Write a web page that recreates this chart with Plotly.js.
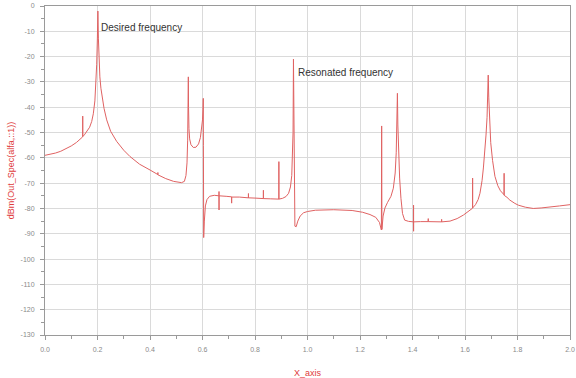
<!DOCTYPE html>
<html>
<head>
<meta charset="utf-8">
<script src="https://cdn.plot.ly/plotly-3.0.1.min.js"></script>
<style>html,body{margin:0;padding:0;background:#fff;}#chart{width:576px;height:378px;}</style>
</head>
<body>
<div id="chart"></div>
<script>
// Frequency axis (X_axis) sample positions
const xAxisVals = [
  0, 0.02, 0.04, 0.06, 0.08, 0.1, 0.12, 0.135, 0.1436, 0.1437, 0.1438,
  0.15, 0.16, 0.17, 0.178, 0.184, 0.19, 0.194, 0.197, 0.1995, 0.2015, 0.2035,
  0.206, 0.209, 0.213, 0.218, 0.225, 0.235, 0.25, 0.273, 0.3, 0.324, 0.36, 0.4,
  0.4299, 0.43, 0.4301, 0.46, 0.49, 0.52, 0.531, 0.537, 0.541, 0.5435, 0.5452,
  0.546, 0.5468, 0.5485, 0.551, 0.556, 0.565, 0.575, 0.585, 0.592, 0.597, 0.6,
  0.6018, 0.603, 0.6035, 0.6045, 0.607, 0.611, 0.617, 0.627, 0.645,
  0.6628, 0.6629, 0.6630, 0.6631, 0.69, 0.7109, 0.711, 0.7111, 0.74,
  0.7749, 0.775, 0.7751, 0.8, 0.8319, 0.832, 0.8321, 0.86, 0.8909, 0.891, 0.8911,
  0.905, 0.918, 0.928, 0.935, 0.94, 0.943, 0.945, 0.9465, 0.948, 0.9495, 0.952,
  0.957, 0.963, 0.972, 0.985, 1.0, 1.03, 1.1, 1.17, 1.21, 1.238, 1.26, 1.274,
  1.2815, 1.2825, 1.2835, 1.288, 1.295, 1.305, 1.318, 1.327, 1.334, 1.338,
  1.3408, 1.3425, 1.3442, 1.347, 1.351, 1.356, 1.362, 1.37, 1.385,
  1.4039, 1.404, 1.4041, 1.4042, 1.43, 1.4599, 1.46, 1.4601, 1.5109, 1.511, 1.5111,
  1.543, 1.57, 1.594, 1.612, 1.6289, 1.629, 1.6291, 1.64, 1.65, 1.657, 1.665,
  1.67, 1.676, 1.68, 1.684, 1.6865, 1.6885, 1.6905, 1.6935, 1.698, 1.705, 1.714,
  1.725, 1.735, 1.7489, 1.749, 1.7491, 1.76, 1.771, 1.79, 1.803, 1.83, 1.86,
  1.89, 1.924, 1.96, 2.0
];
// dBm(Out_Spec(alfa,::1)) values
const dbmVals = [
  -59, -58.6, -58.1, -57.4, -56.4, -55.3, -53.9, -52.5, -51.7, -43.5, -51.6,
  -50.9, -49.6, -47.9, -45.6, -42.6, -37.5, -31, -23, -13, -2, -13,
  -22, -28, -32.5, -36.5, -40.5, -45, -49.5, -53.5, -57, -59.5, -62.5, -64.8,
  -66.6, -65.8, -66.7, -68.2, -69.3, -69.8, -69.3, -67, -62, -53, -40,
  -28, -40, -48.5, -52.5, -54.8, -55.9, -55.8, -54.5, -52, -48.5, -45,
  -41, -36.5, -55, -91.5, -85, -79, -76.5, -75.2, -74.8,
  -75, -73.3, -80.6, -75, -75.2, -75.4, -77.9, -75.5, -75.5,
  -75.8, -74.1, -75.8, -75.9, -76.1, -72.8, -76.1, -76.2, -76.3, -61.5, -76.3,
  -76, -75.3, -74, -71.5, -67, -60, -50, -21, -55, -80, -87,
  -87.2, -85, -83, -81.7, -81.2, -80.7, -80.5, -80.8, -81.5, -82.4, -83.5, -85.5,
  -88.5, -47.4, -88.3, -83, -79.8, -77.6, -75.2, -72, -66, -58,
  -48, -34.5, -47, -58, -68, -76, -82, -84.6, -85.1,
  -85.3, -78.7, -89, -85.3, -85.2, -85.2, -84, -85.2, -85.3, -84.3, -85.3,
  -85, -84, -82.6, -81.2, -79.9, -68, -79.8, -78.5, -76.5, -74, -69,
  -64, -57, -51, -44, -36, -27.3, -36, -45, -54, -61, -67.3,
  -71, -73, -74.6, -66.1, -74.8, -75.6, -76.7, -78, -78.7, -79.5, -80,
  -79.8, -79.3, -79, -78.5
];
const xTickVals = [0, 0.2, 0.4, 0.6, 0.8, 1.0, 1.2, 1.4, 1.6, 1.8, 2.0];
const xTickText = ["0.0", "0.2", "0.4", "0.6", "0.8", "1.0", "1.2", "1.4", "1.6", "1.8", "2.0"];
const yTickVals = [0, -10, -20, -30, -40, -50, -60, -70, -80, -90, -100, -110, -120, -130];
const yTickText = ["0", "-10", "-20", "-30", "-40", "-50", "-60", "-70", "-80", "-90", "-100", "-110", "-120", "-130"];
const noteTexts = ["Desired frequency", "Resonated frequency"];
const noteX = [0.204, 0.956];
const noteY = [-8.5, -26.1];

const tickFont = {family: "Liberation Sans, Arial, sans-serif", size: 7, color: "#8a8a8a"};
const axisCommon = {
  showgrid: true, gridcolor: "#dadada", gridwidth: 1,
  showline: true, linecolor: "#9a9a9a", linewidth: 1, mirror: true,
  ticks: "outside", ticklen: 4, tickcolor: "#9a9a9a", tickwidth: 1,
  zeroline: false, tickfont: tickFont, automargin: false, ticklabelstandoff: 4
};

const trace = {
  x: xAxisVals, y: dbmVals, type: "scatter", mode: "lines",
  line: {color: "#e06262", width: 1}, hoverinfo: "skip", showlegend: false
};

const layout = {
  width: 576, height: 378,
  margin: {l: 45, r: 6, t: 6, b: 43},
  paper_bgcolor: "#ffffff", plot_bgcolor: "#ffffff",
  xaxis: Object.assign({}, axisCommon, {
    range: [0, 2], tickmode: "array", tickvals: xTickVals, ticktext: xTickText,
    minor: {ticks: "outside", ticklen: 3, dtick: 0.1, tick0: 0, tickcolor: "#9a9a9a", showgrid: false},
    title: {text: "X_axis", font: {family: "Liberation Sans, Arial, sans-serif", size: 9, color: "#e03c3c"}, standoff: 18}
  }),
  yaxis: Object.assign({}, axisCommon, {
    range: [-130, 0], tickmode: "array", tickvals: yTickVals, ticktext: yTickText,
    minor: {ticks: "outside", ticklen: 3, dtick: 5, tick0: 0, tickcolor: "#9a9a9a", showgrid: false},
    title: {text: "dBm(Out_Spec(alfa,::1))", font: {family: "Liberation Sans, Arial, sans-serif", size: 9, color: "#e03c3c"}, standoff: 4}
  }),
  annotations: noteTexts.map((t, i) => ({
    text: t, x: noteX[i], y: noteY[i], xref: "x", yref: "y",
    xanchor: "left", yanchor: "middle", showarrow: false,
    font: {family: "Liberation Sans, Arial, sans-serif", size: 10, color: "#333333"}
  }))
};

Plotly.newPlot("chart", [trace], layout, {staticPlot: true, displayModeBar: false});
</script>
</body>
</html>
